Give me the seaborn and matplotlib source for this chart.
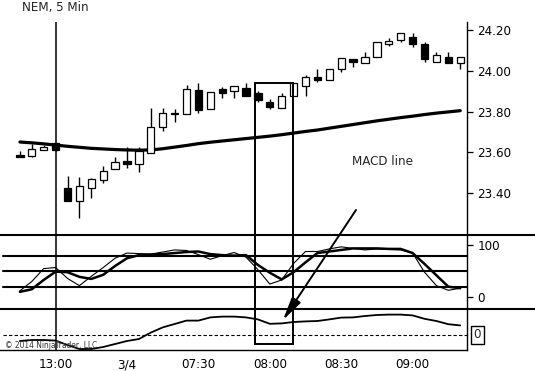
import numpy as np
import pandas as pd
import matplotlib
matplotlib.use("Agg")
import matplotlib.pyplot as plt
import matplotlib.transforms as mtransforms
from matplotlib import font_manager as fm
from matplotlib.patches import Rectangle
from matplotlib.lines import Line2D
import seaborn as sns

# 5 min bars of NEM, bar 3 = 13:00 on 3/3, bar 9 = start of 3/4
opens = [23.587, 23.582, 23.612, 23.644, 23.424, 23.363, 23.424, 23.464, 23.517, 23.559,
         23.543, 23.596, 23.723, 23.792, 23.789, 23.907, 23.812, 23.910, 23.902, 23.915,
         23.890, 23.849, 23.820, 23.877, 23.926, 23.972, 23.956, 24.008, 24.059, 24.041,
         24.070, 24.133, 24.152, 24.169, 24.133, 24.046, 24.070, 24.038]
highs = [23.607, 23.641, 23.636, 23.646, 23.484, 23.478, 23.474, 23.535, 23.576, 23.628,
         23.628, 23.817, 23.817, 23.813, 23.931, 23.940, 23.898, 23.920, 23.928, 23.940,
         23.903, 23.861, 23.890, 23.940, 23.980, 24.010, 24.010, 24.062, 24.059, 24.092,
         24.141, 24.161, 24.185, 24.185, 24.144, 24.092, 24.092, 24.070]
lows = [23.575, 23.576, 23.612, 23.609, 23.363, 23.276, 23.374, 23.448, 23.517, 23.522,
        23.505, 23.596, 23.705, 23.751, 23.789, 23.795, 23.812, 23.866, 23.866, 23.877,
        23.849, 23.812, 23.820, 23.877, 23.877, 23.947, 23.956, 23.997, 24.021, 24.041,
        24.070, 24.123, 24.144, 24.119, 24.046, 24.046, 24.038, 24.008]
closes = [23.575, 23.615, 23.628, 23.612, 23.363, 23.435, 23.468, 23.509, 23.554, 23.544,
          23.608, 23.726, 23.795, 23.789, 23.910, 23.808, 23.898, 23.893, 23.928, 23.877,
          23.857, 23.822, 23.879, 23.940, 23.969, 23.956, 24.010, 24.062, 24.046, 24.070,
          24.141, 24.149, 24.185, 24.131, 24.059, 24.079, 24.038, 24.070]
moving_avg = [23.651, 23.647, 23.642, 23.636, 23.630, 23.625, 23.620, 23.617, 23.614, 23.612,
              23.611, 23.612, 23.618, 23.626, 23.634, 23.643, 23.650, 23.656, 23.662, 23.668,
              23.674, 23.680, 23.687, 23.695, 23.703, 23.710, 23.719, 23.728, 23.737, 23.746,
              23.755, 23.763, 23.771, 23.778, 23.786, 23.793, 23.799, 23.805]

stoch_k = [12, 30, 55, 57, 36, 22, 40, 57, 75, 85, 84, 83, 87, 91, 90, 82, 73, 80, 86, 77,
           53, 25, 33, 65, 88, 88, 93, 97, 94, 91, 93, 92, 91, 85, 48, 22, 13, 17]
stoch_d = [10, 15, 33, 49, 48, 39, 35, 43, 60, 75, 81, 82, 83, 85, 87, 88, 83, 81, 80, 81,
           62, 47, 34, 48, 67, 85, 88, 91, 94, 94, 94, 93, 93, 85, 64, 42, 20, 17]
macd = [-0.015, -0.0125, -0.0125, -0.014, -0.025, -0.035, -0.035, -0.030, -0.0225, -0.015,
        -0.010, 0.006, 0.019, 0.0275, 0.036, 0.036, 0.044, 0.046, 0.046, 0.044,
        0.039, 0.028, 0.029, 0.0325, 0.034, 0.035, 0.039, 0.0435, 0.044, 0.0475,
        0.050, 0.051, 0.051, 0.049, 0.0405, 0.035, 0.027, 0.024]

tick_bars = [3, 9, 15, 21, 27, 33]
tick_labels = ["13:00", "3/4", "07:30", "08:00", "08:30", "09:00"]
price_ticks = [23.40, 23.60, 23.80, 24.00, 24.20]
stoch_levels = [20, 50, 80]

df = pd.DataFrame({"bar": np.arange(len(opens)), "open": opens, "high": highs,
                   "low": lows, "close": closes, "ma": moving_avg,
                   "k": stoch_k, "d": stoch_d, "macd": macd})

sns.set_style("white")

# narrow font if there is one, the original uses a condensed face
fonts = {(f.name, f.stretch) for f in fm.fontManager.ttflist}
fsize = 10
if any(n == "Liberation Sans Narrow" for n, _ in fonts):
    plt.rcParams["font.family"] = ["Liberation Sans Narrow", "DejaVu Sans"]
elif ("DejaVu Sans", "condensed") in fonts or ("DejaVu Sans", 700) in fonts:
    plt.rcParams["font.family"] = ["DejaVu Sans"]
    plt.rcParams["font.stretch"] = "condensed"
    fsize = 9.5
else:
    plt.rcParams["font.family"] = ["Liberation Sans", "DejaVu Sans"]
    fsize = 8.8
plt.rcParams["font.size"] = fsize

W, H = 535, 371
fig = plt.figure(figsize=(W / 100, H / 100), dpi=100)

def box(top, bottom):
    return [0, (H - bottom) / H, 467 / W, (bottom - top) / H]

ax_p = fig.add_axes(box(22, 235))
ax_s = fig.add_axes(box(235, 308.5))
ax_m = fig.add_axes(box(308.5, 350))

xlim = (3 - 55.6 / 11.9, 3 + (467 - 55.6) / 11.9)

for ax in (ax_p, ax_s, ax_m):
    ax.set_xlim(*xlim)
    ax.set_facecolor("white")
    for s in ("top", "left", "bottom"):
        ax.spines[s].set_visible(False)
    ax.spines["right"].set_color("black")
    ax.spines["right"].set_linewidth(1.0)
    ax.yaxis.tick_right()
    ax.tick_params(axis="y", direction="out", length=4.5, width=0.9, pad=3, colors="black", labelsize=fsize)
    ax.axvline(3, color="black", lw=1.1, zorder=1)

# ---- price panel
sns.lineplot(data=df, x="bar", y="ma", ax=ax_p, color="black", lw=2.3, zorder=2)
ax_p.vlines(df["bar"], df["low"], df["high"], color="black", lw=1.0, zorder=3)
up = df["close"] >= df["open"]
body_lo = np.minimum(df["open"], df["close"])
body_h = np.maximum(np.abs(df["close"] - df["open"]), 0.004)
ax_p.bar(df["bar"], body_h, bottom=body_lo, width=0.62,
         color=np.where(up, "white", "black"), edgecolor="black", lw=0.9, zorder=4)
ax_p.set_ylim(23.1941, 24.2408)
ax_p.set_yticks(price_ticks)
ax_p.set_yticklabels([f"{t:.2f}" for t in price_ticks])
ax_p.set_xticks([])
ax_p.set_xlabel("")
ax_p.set_ylabel("")

# ---- stochastics panel
for lv in stoch_levels:
    ax_s.axhline(lv, xmin=3 / 467, color="black", lw=1.5, zorder=1)
sns.lineplot(data=df, x="bar", y="k", ax=ax_s, color="black", lw=0.8, zorder=3)
sns.lineplot(data=df, x="bar", y="d", ax=ax_s, color="black", lw=1.8, zorder=3)
ax_s.set_ylim(-22.2, 119.9)
ax_s.set_yticks([0, 100])
ax_s.set_yticklabels(["0", "100"])
ax_s.set_xticks([])
ax_s.set_xlabel("")
ax_s.set_ylabel("")

# ---- MACD panel
ax_m.axhline(0, xmin=3 / 467, color="black", lw=0.8, ls=(0, (3, 2)), zorder=1)
sns.lineplot(data=df, x="bar", y="macd", ax=ax_m, color="black", lw=1.3, zorder=3)
ax_m.set_ylim(-0.0375, 0.06625)
ax_m.set_yticks([])
ax_m.spines["bottom"].set_visible(True)
ax_m.spines["bottom"].set_color("black")
ax_m.spines["bottom"].set_linewidth(1.0)
ax_m.set_xticks(tick_bars)
ax_m.set_xticklabels(tick_labels)
ax_m.tick_params(axis="x", direction="out", length=5, width=0.9, pad=1, colors="black", labelsize=fsize)
ax_m.set_xlabel("")
ax_m.set_ylabel("")
trans = mtransforms.blended_transform_factory(ax_m.transAxes, ax_m.transData)
ax_m.text(1 + 10.5 / 467, 0, "0", transform=trans, ha="center", va="center", fontsize=fsize,
          bbox=dict(boxstyle="square,pad=0.2", fc="white", ec="black", lw=1.0))

# panel separators across the whole width
for yy in (235, 308.5):
    fig.add_artist(Line2D([0, 1], [(H - yy) / H] * 2, transform=fig.transFigure, color="black", lw=1.5))

# highlight box around the 08:00 dip
fig.add_artist(Rectangle((255 / W, (H - 344) / H), 38 / W, 261 / H, transform=fig.transFigure,
                         fill=False, ec="black", lw=1.4))

ax_m.annotate("", xy=(22.1, 0.037), xycoords="data", xytext=(356, H - 210), textcoords="figure pixels",
              arrowprops=dict(arrowstyle="-|>,head_length=1.0,head_width=0.22", color="black", lw=1.4,
                              mutation_scale=14, shrinkA=0, shrinkB=0),
              annotation_clip=False)

fig.text(22 / W, (H - 8) / H, "NEM, 5 Min", ha="left", va="center", fontsize=fsize)
fig.text(383 / W, (H - 162) / H, "MACD line", ha="center", va="center", fontsize=fsize)
fig.text(5 / W, (H - 346) / H, "© 2014 NinjaTrader, LLC", ha="left", va="center", fontsize=6.0, color="#333333")

fig.savefig("out.png", dpi=100, facecolor="white")
